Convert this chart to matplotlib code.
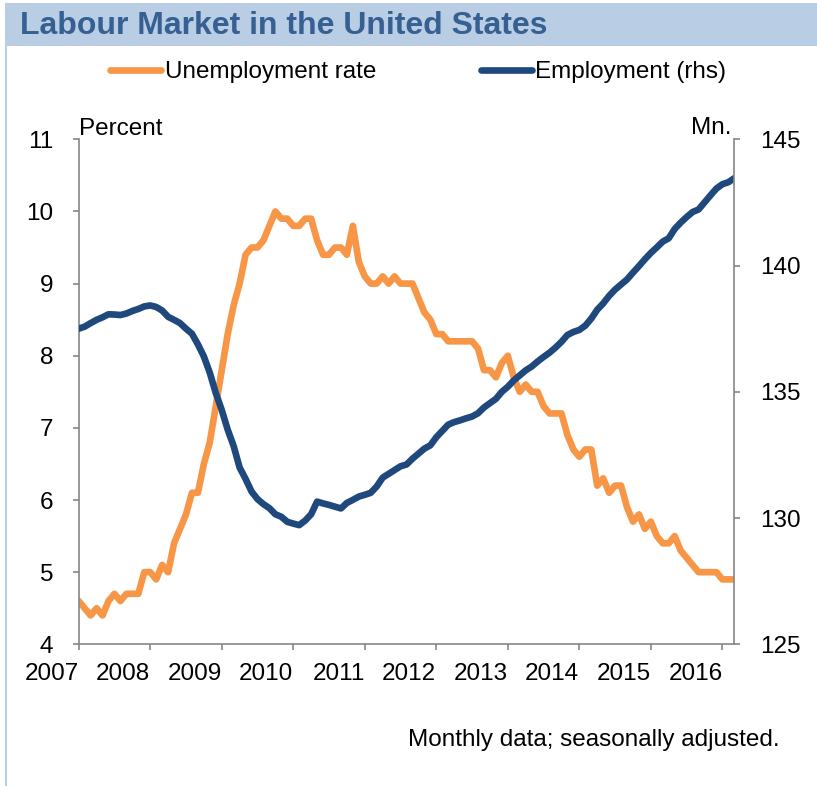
import matplotlib
matplotlib.use("Agg")
import matplotlib.pyplot as plt
from matplotlib.lines import Line2D
from matplotlib.patches import Rectangle
import numpy as np

plt.rcParams['font.family'] = ['Liberation Sans', 'DejaVu Sans']

# ---------------- data ----------------
title = "Labour Market in the United States"
series_names = ["Unemployment rate", "Employment (rhs)"]
year_labels = ["2007", "2008", "2009", "2010", "2011", "2012", "2013", "2014", "2015", "2016"]
footnote = "Monthly data; seasonally adjusted."

# monthly, Jan 2007 - Mar 2016, percent
unemployment = [
    4.6, 4.5, 4.4, 4.5, 4.4, 4.6, 4.7, 4.6, 4.7, 4.7, 4.7, 5.0,   # 2007
    5.0, 4.9, 5.1, 5.0, 5.4, 5.6, 5.8, 6.1, 6.1, 6.5, 6.8, 7.3,   # 2008
    7.8, 8.3, 8.7, 9.0, 9.4, 9.5, 9.5, 9.6, 9.8, 10.0, 9.9, 9.9,  # 2009
    9.8, 9.8, 9.9, 9.9, 9.6, 9.4, 9.4, 9.5, 9.5, 9.4, 9.8, 9.3,   # 2010
    9.1, 9.0, 9.0, 9.1, 9.0, 9.1, 9.0, 9.0, 9.0, 8.8, 8.6, 8.5,   # 2011
    8.3, 8.3, 8.2, 8.2, 8.2, 8.2, 8.2, 8.1, 7.8, 7.8, 7.7, 7.9,   # 2012
    8.0, 7.7, 7.5, 7.6, 7.5, 7.5, 7.3, 7.2, 7.2, 7.2, 6.9, 6.7,   # 2013
    6.6, 6.7, 6.7, 6.2, 6.3, 6.1, 6.2, 6.2, 5.9, 5.7, 5.8, 5.6,   # 2014
    5.7, 5.5, 5.4, 5.4, 5.5, 5.3, 5.2, 5.1, 5.0, 5.0, 5.0, 5.0,   # 2015
    4.9, 4.9, 4.9,                                               # 2016
]

# monthly, Jan 2007 - Mar 2016, millions
employment = [
    137.50, 137.58, 137.72, 137.85, 137.95, 138.07, 138.06, 138.04, 138.10, 138.20, 138.28, 138.38,  # 2007
    138.42, 138.36, 138.22, 137.97, 137.85, 137.72, 137.50, 137.30, 136.88, 136.40, 135.75, 134.95,  # 2008
    134.28, 133.50, 132.85, 132.00, 131.55, 131.05, 130.75, 130.55, 130.39, 130.15, 130.05, 129.85,  # 2009
    129.78, 129.72, 129.90, 130.15, 130.65, 130.58, 130.52, 130.45, 130.38, 130.60, 130.72, 130.85,  # 2010
    130.92, 131.00, 131.25, 131.60, 131.75, 131.90, 132.05, 132.12, 132.35, 132.55, 132.75, 132.88,  # 2011
    133.20, 133.45, 133.70, 133.80, 133.87, 133.95, 134.02, 134.15, 134.38, 134.55, 134.72, 135.00,  # 2012
    135.20, 135.45, 135.65, 135.85, 136.00, 136.20, 136.38, 136.55, 136.75, 136.98, 137.25, 137.37,  # 2013
    137.45, 137.62, 137.90, 138.25, 138.50, 138.80, 139.05, 139.25, 139.45, 139.72, 139.98, 140.25,  # 2014
    140.50, 140.72, 140.95, 141.08, 141.45, 141.70, 141.92, 142.12, 142.22, 142.50, 142.78, 143.05,  # 2015
    143.22, 143.30, 143.46,                                                                          # 2016
]

# ---------------- style ----------------
ORANGE = "#F79646"
BLUE = "#1F497D"
AXIS = "#868686"
BAND = "#B9CDE5"
TITLE_C = "#376092"
FS = 17.5

W, H = 817, 786
fig = plt.figure(figsize=(W / 100, H / 100), dpi=100)

# title band and left border
fig.patches.append(Rectangle((5 / W, 1 - 46 / H), 1 - 5 / W, 43 / H,
                             transform=fig.transFigure, facecolor=BAND, edgecolor='none'))
fig.lines.append(Line2D([6 / W, 6 / W], [0, 1 - 46 / H], transform=fig.transFigure,
                        color=BAND, lw=1.5))
fig.text(20 / W, 1 - 26 / H, title, fontsize=23, fontweight='bold', color=TITLE_C,
         ha='left', va='center')

left, right, top, bottom = 78.7, 734.3, 139.3, 644.3
ax = fig.add_axes([left / W, 1 - bottom / H, (right - left) / W, (bottom - top) / H])
ax2 = ax.twinx()

months = np.arange(len(unemployment))
l1, = ax.plot(months, unemployment, color=ORANGE, lw=4.8, solid_capstyle='round',
              solid_joinstyle='round')
l2, = ax2.plot(months, employment, color=BLUE, lw=4.8, solid_capstyle='round',
               solid_joinstyle='round')

ax.set_xlim(0, len(unemployment) - 1)
ax.set_ylim(4, 11)
ax2.set_ylim(125, 145)
ax.set_yticks(np.arange(4, 12, 1))
ax2.set_yticks(np.arange(125, 150, 5))
ax.set_xticks(np.arange(0, 12 * len(year_labels), 12))
ax.set_xticklabels(year_labels)
for lab in ax.get_xticklabels():
    lab.set_horizontalalignment('right')

for a in (ax, ax2):
    a.spines['top'].set_visible(False)
    for s in a.spines.values():
        s.set_color(AXIS)
        s.set_linewidth(1.2)
ax.spines['right'].set_visible(False)
ax2.spines['left'].set_visible(False)
ax2.spines['bottom'].set_visible(False)

ax.tick_params(axis='x', direction='out', length=4.5, width=1.2, color=AXIS,
               labelsize=FS, pad=9)
ax.tick_params(axis='y', direction='out', length=4.5, width=1.2, color=AXIS,
               labelsize=FS, pad=14)
ax2.tick_params(axis='y', direction='out', length=4.5, width=1.2, color=AXIS,
                labelsize=FS, pad=14)

ax.annotate("Percent", xy=(0, 1), xycoords='axes fraction', xytext=(0, 3),
            textcoords='offset points', ha='left', va='baseline', fontsize=FS)
ax.annotate("Mn.", xy=(1, 1), xycoords='axes fraction', xytext=(-2, 4),
            textcoords='offset points', ha='right', va='baseline', fontsize=FS)

h1 = Line2D([], [], color=ORANGE, lw=4.8, solid_capstyle='round')
h2 = Line2D([], [], color=BLUE, lw=4.8, solid_capstyle='round')
fig.legend([h1, h2], series_names, loc='center left',
           bbox_to_anchor=(110 / W, 1 - 72 / H), ncol=2, frameon=False, fontsize=FS,
           handlelength=2.1, handletextpad=0.15, columnspacing=4.3,
           borderpad=0, borderaxespad=0)

fig.text(780 / W, 1 - 740 / H, footnote, fontsize=FS, ha='right', va='center')

fig.savefig("out.png", dpi=100, facecolor='white')
